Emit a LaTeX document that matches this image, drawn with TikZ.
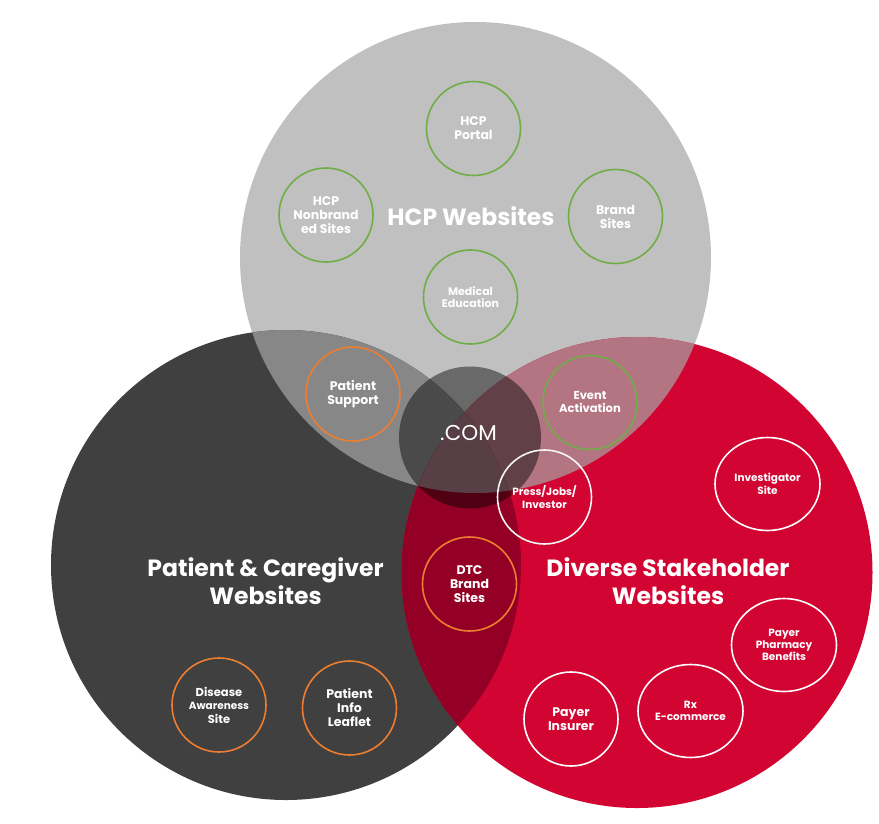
\documentclass[tikz,border=0pt]{standalone}
\usepackage{fontspec}
\setmainfont{Poppins}
\usetikzlibrary{shapes.geometric}
\definecolor{cgray}{RGB}{192,192,192}
\definecolor{cdark}{RGB}{64,64,64}
\definecolor{cred}{RGB}{210,4,50}
\definecolor{cgd}{RGB}{135,135,135}
\definecolor{cgr}{RGB}{179,117,130}
\definecolor{cdr}{RGB}{148,0,37}
\definecolor{cgdr}{RGB}{160,116,127}
\definecolor{cgreen}{RGB}{112,173,71}
\definecolor{corange}{RGB}{237,125,49}
\begin{document}
\begin{tikzpicture}[x=1pt,y=-1pt,
  ring/.style={circle, draw, line width=1.6pt, minimum size=94pt, inner sep=0pt, text=white, align=center,
    font=\bfseries\fontsize{12.5}{14}\selectfont},
  gring/.style={ring, draw=cgreen},
  oring/.style={ring, draw=corange},
  wring/.style={ring, draw=white},
  wellip/.style={wring, ellipse, minimum width=105pt, minimum height=93pt},
  titletext/.style={text=white, align=center, font=\bfseries\fontsize{23.5}{28}\selectfont}]
\useasboundingbox (0,0) rectangle (879,823);
\def\cgrayp{(475.5,257.5) circle (235.5pt)}
\def\cdarkp{(286,565) circle (235pt)}
\def\credp{(637,572.5) circle (235.5pt)}
% big circles
\fill[cgray] \cgrayp;
\fill[cdark] \cdarkp;
\fill[cred] \credp;
\begin{scope}
  \clip \cgrayp;
  \fill[cgd] \cdarkp;
  \fill[cgr] \credp;
\end{scope}
\begin{scope}
  \clip \cdarkp;
  \fill[cdr] \credp;
\end{scope}
\begin{scope}
  \clip \cgrayp;
  \clip \cdarkp;
  \fill[cgdr] \credp;
\end{scope}
% .COM
\fill[black, opacity=0.45] (470,437.5) circle (71pt);
\node[text=white, font=\fontsize{21.5}{24}\selectfont] (com) at (468.5,432.5) {.COM};
% titles
\node[titletext] (hcpt) at (471,216) {HCP Websites};
\node[titletext] (pct) at (265.5,581) {Patient \& Caregiver\\Websites};
\node[titletext] (dst) at (668,581) {Diverse Stakeholder\\Websites};
% green rings
\node[gring] (portal) at (473.5,128.5) {HCP\\Portal};
\node[gring] (nonbr) at (326,215) {HCP\\Nonbrand\\ed Sites};
\node[gring] (brand) at (615.5,216.5) {Brand\\Sites};
\node[gring, font=\bfseries\fontsize{11}{12.5}\selectfont] (medic) at (470.5,297) {Medical\\Education};
\node[gring, font=\bfseries\fontsize{11.5}{13}\selectfont] (event) at (590,402.5) {Event\\Activation};
% orange rings
\node[oring] (psupp) at (353,394) {Patient\\Support};
\node[oring] (dtc) at (469.5,584) {DTC\\Brand\\Sites};
\node[oring, font=\bfseries\fontsize{11.5}{13.5}\selectfont] (disease) at (219,705) {Disease\\{\fontsize{10.5}{13}\selectfont Awareness}\\Site};
\node[oring] (leaflet) at (349.5,708) {Patient\\Info\\Leaflet};
% white rings
\node[wring, draw=white!85!cgray, font=\bfseries\fontsize{10.5}{12.5}\selectfont] (press) at (544.5,497) {Press/Jobs/\\Investor};
\node[wellip, font=\bfseries\fontsize{10.5}{12.5}\selectfont] (invest) at (767.5,484) {Investigator\\Site};
\node[wellip, font=\bfseries\fontsize{10.5}{12}\selectfont] (pharm) at (784,645) {Payer\\Pharmacy\\Benefits};
\node[wellip, font=\bfseries\fontsize{10.5}{12.5}\selectfont] (rx) at (690.5,711) {Rx\\E-commerce};
\node[wring] (insurer) at (571,719) {Payer\\Insurer};
\end{tikzpicture}
\end{document}
